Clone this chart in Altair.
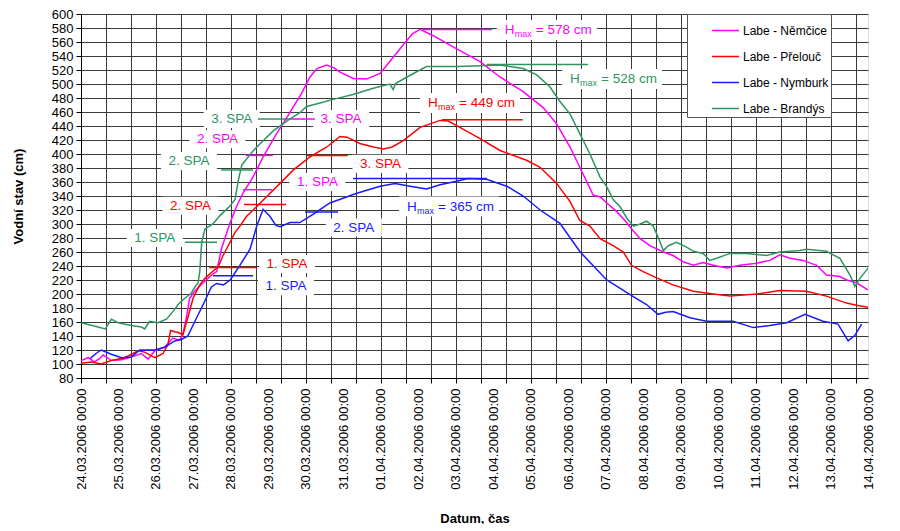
import json
import altair as alt
import pandas as pd

# ---------------- data ----------------
STATIONS = ["Labe - Němčice", "Labe - Přelouč", "Labe - Nymburk", "Labe - Brandýs"]
COLORS = ["#ff00ff", "#ff0000", "#1a1aff", "#2e9560"]

DATE_LABELS = [
    "24.03.2006 00:00", "25.03.2006 00:00", "26.03.2006 00:00", "27.03.2006 00:00",
    "28.03.2006 00:00", "29.03.2006 00:00", "30.03.2006 00:00", "31.03.2006 00:00",
    "01.04.2006 00:00", "02.04.2006 00:00", "03.04.2006 00:00", "04.04.2006 00:00",
    "05.04.2006 00:00", "06.04.2006 00:00", "07.04.2006 00:00", "08.04.2006 00:00",
    "09.04.2006 00:00", "10.04.2006 00:00", "11.04.2006 00:00", "12.04.2006 00:00",
    "13.04.2006 00:00", "14.04.2006 00:00",
]
Y_TICKS = list(range(80, 601, 20))

# days since 24.03.2006 00:00, water level in cm
nem_day = [0, 0.19, 0.36, 0.5, 0.59, 0.81, 1.08, 1.34, 1.61, 1.79, 1.97, 2.23, 2.45, 2.63, 2.72,
           2.81, 2.9, 3.03, 3.26, 3.48, 3.62, 3.75, 3.98, 4.15, 4.33, 4.6, 4.86, 5.22, 5.49, 5.89,
           6.11, 6.3, 6.55, 6.75, 6.91, 7.27, 7.62, 7.98, 8.24, 8.6, 8.85, 9.05, 9.4, 9.93, 10.65,
           11.18, 11.8, 12.34, 12.69, 13.05, 13.31, 13.67, 13.85, 14.03, 14.29, 14.56, 14.74, 14.92,
           15.18, 15.54, 15.8, 16.07, 16.34, 16.6, 16.87, 17.23, 17.58, 18.03, 18.38, 18.65, 18.92,
           19.27, 19.63, 19.89, 20.25, 20.43, 20.69, 21.0]
nem_cm = [105, 109, 103, 108, 113, 105, 106, 110, 115, 107, 119, 124, 137, 134, 143,
          166, 194, 204, 216, 227, 232, 265, 302, 325, 345, 368, 396, 429, 452, 487,
          510, 522, 527, 523, 517, 508, 507, 515, 532, 556, 572, 578, 569, 553, 532,
          510, 489, 466, 443, 410, 381, 341, 339, 330, 318, 302, 290, 279,
          269, 260, 255, 246, 241, 245, 241, 237, 241, 244, 248, 256, 251,
          248, 241, 227, 225, 220, 216, 206]

pre_day = [0, 0.28, 0.54, 0.81, 1.16, 1.39, 1.52, 1.7, 1.97, 2.19, 2.32, 2.39, 2.5, 2.59, 2.72,
           2.85, 2.99, 3.17, 3.3, 3.44, 3.66, 3.79, 3.89, 4.11, 4.24, 4.42, 4.69, 4.95, 5.31, 5.66,
           6.11, 6.56, 6.91, 7.1, 7.44, 7.8, 8.07, 8.3, 8.6, 9.05, 9.58, 9.8, 10.11, 10.65, 11.18,
           11.89, 12.25, 12.69, 13.05, 13.31, 13.58, 13.85, 14.2, 14.47, 14.69, 15.0, 15.36, 15.8,
           16.34, 16.87, 17.32, 18.03, 18.65, 19.36, 19.89, 20.43, 20.69, 21.0]
pre_cm = [101, 103, 100, 105, 109, 115, 119, 117, 109, 115, 128, 148, 146, 145, 142,
          166, 194, 213, 222, 229, 239, 255, 265, 288, 297, 311, 325, 339, 358, 377,
          396, 410, 425, 424, 415, 410, 407, 410, 419, 438, 448, 447, 438, 422, 405,
          391, 381, 358, 332, 305, 297, 279, 269, 260, 241, 232, 223, 213,
          204, 200, 197, 200, 205, 204, 197, 187, 184, 181]

nym_day = [0.25, 0.4, 0.54, 0.81, 1.08, 1.34, 1.57, 1.97, 2.23, 2.5, 2.68, 2.85, 3.03, 3.26, 3.48,
           3.62, 3.8, 3.98, 4.24, 4.51, 4.69, 4.86, 5.04, 5.2, 5.31, 5.58, 5.84, 6.2, 6.64, 7.36,
           7.98, 8.38, 8.78, 9.22, 9.58, 10.02, 10.33, 10.82, 11.36, 11.8, 12.25, 12.78, 13.32,
           14.03, 14.65, 15.09, 15.4, 15.6, 15.8, 16.25, 16.69, 17.4, 17.94, 18.38, 18.83, 19.32,
           19.8, 20.2, 20.47, 20.65, 20.83]
nym_cm = [108, 115, 120, 114, 109, 110, 120, 120, 124, 133, 135, 140, 160, 185, 210,
          215, 213, 220, 241, 264, 297, 321, 311, 298, 296, 302, 302, 314, 330, 344,
          354, 358, 354, 350, 356, 361, 365, 364, 354, 340, 320, 301, 260,
          220, 199, 185, 171, 174, 175, 166, 161, 161, 152, 155, 159, 171,
          161, 157, 133, 141, 157]

bra_day = [0, 0.3, 0.65, 0.81, 0.99, 1.34, 1.61, 1.7, 1.83, 2.05, 2.28, 2.5, 2.59, 2.77, 2.94,
           3.05, 3.12, 3.17, 3.22, 3.31, 3.52, 3.71, 3.98, 4.11, 4.2, 4.29, 4.42, 4.6, 4.86, 5.13,
           5.49, 5.84, 6.02, 6.38, 6.73, 7.26, 7.8, 8.24, 8.33, 8.4, 8.87, 9.22, 10.02, 10.65, 11.18,
           11.8, 12.16, 12.51, 12.78, 13.05, 13.31, 13.58, 13.85, 14.03, 14.2, 14.38, 14.56, 14.74,
           14.92, 15.09, 15.27, 15.4, 15.54, 15.67, 15.89, 16.16, 16.34, 16.6, 16.78, 16.96, 17.32,
           17.76, 18.29, 18.65, 19.18, 19.36, 19.89, 20.25, 20.52, 20.65, 20.78, 21.0]
bra_cm = [159, 155, 150, 164, 159, 155, 153, 150, 161, 159, 164, 178, 185, 194, 201,
          211, 215, 232, 274, 293, 300, 312, 326, 335, 363, 384, 393, 405, 419, 433,
          447, 459, 468, 473, 478, 485, 494, 500, 492, 501, 515, 525, 525, 526, 527,
          522, 513, 496, 475, 457, 429, 400, 367, 353, 335, 325, 309, 297,
          300, 304, 297, 281, 262, 269, 274, 267, 261, 258, 248, 251, 258,
          258, 255, 260, 262, 264, 261, 251, 227, 211, 222, 237]

# flood-alert (SPA) annotations
spa_station = [STATIONS[0]] * 3 + [STATIONS[1]] * 3 + [STATIONS[2]] * 2 + [STATIONS[3]] * 3
spa_text = ["1. SPA", "2. SPA", "3. SPA", "1. SPA", "2. SPA", "3. SPA",
            "1. SPA", "2. SPA", "1. SPA", "2. SPA", "3. SPA"]
spa_level = [349, 398, 450, 238, 328, 398, 226, 317, 274, 377, 450]
spa_line_from = [4.32, 4.40, 5.58, 3.42, 4.35, 6.03, 3.52, 5.98, 2.77, 3.74, 4.72]
spa_line_to = [5.10, 5.12, 6.24, 4.67, 5.47, 7.12, 4.59, 6.86, 3.63, 4.59, 5.58]
spa_label_day = [6.31, 3.64, 6.94, 5.50, 2.92, 7.99, 5.47, 7.28, 1.97, 2.88, 4.02]
spa_label_cm = [360, 421, 450, 243, 326, 386, 211, 295, 280, 390, 450]

# maximum water level annotations
hmax_station = STATIONS
hmax_value = [578, 449, 365, 528]
hmax_line_from = [9.12, 9.63, 7.26, 10.83]
hmax_line_to = [10.97, 11.79, 10.83, 13.53]
hmax_label_day = [11.31, 9.26, 8.70, 13.05]
hmax_label_cm = [577, 473, 325, 507]

# ---------------- layout ----------------
W, H = 787, 364
PAD_TOP = 6
X_DOM = [0, 21]
Y_DOM = [80, 600]
PX_DAY = W / (X_DOM[1] - X_DOM[0])
PX_CM = H / (Y_DOM[1] - Y_DOM[0])
FONT = "Liberation Sans"

series = []
for st, d, v in zip(STATIONS, [nem_day, pre_day, nym_day, bra_day], [nem_cm, pre_cm, nym_cm, bra_cm]):
    series.append(pd.DataFrame({"station": st, "day": d, "cm": v}))
df = pd.concat(series, ignore_index=True)

spa_df = pd.DataFrame({"station": spa_station, "text": spa_text, "level": spa_level,
                       "x1": spa_line_from, "x2": spa_line_to,
                       "day": spa_label_day, "cm": spa_label_cm})
hmax_df = pd.DataFrame({"station": hmax_station, "value": hmax_value,
                        "x1": hmax_line_from, "x2": hmax_line_to,
                        "day": hmax_label_day, "cm": hmax_label_cm})
hmax_df["level"] = hmax_df["value"]
hmax_df["eq"] = "= " + hmax_df["value"].astype(str) + " cm"

box_rows = []
for _, r in spa_df.iterrows():
    cx, cy, w, h = r["day"], r["cm"], 56, 18
    box_rows.append((cx - w / 2 / PX_DAY, cx + w / 2 / PX_DAY, cy - h / 2 / PX_CM, cy + h / 2 / PX_CM))
for _, r in hmax_df.iterrows():
    cx, cy, w, h = r["day"] + 42 / PX_DAY, r["cm"], 100, 20
    box_rows.append((cx - w / 2 / PX_DAY, cx + w / 2 / PX_DAY, cy - h / 2 / PX_CM, cy + h / 2 / PX_CM))
box_df = pd.DataFrame(box_rows, columns=["bx1", "bx2", "by1", "by2"])

rule_df = pd.concat([spa_df[["station", "level", "x1", "x2"]],
                     hmax_df[["station", "level", "x1", "x2"]]], ignore_index=True)

x_scale = alt.Scale(domain=X_DOM, nice=False, zero=False)
y_scale = alt.Scale(domain=Y_DOM, nice=False, zero=False)
color_scale = alt.Scale(domain=STATIONS, range=COLORS)

tick_vals = sorted(set([round(k * 2 / 3, 6) for k in range(32)] + [float(d) for d in range(22)]))
not_tick = "abs(datum.value*1.5 - round(datum.value*1.5)) > 0.01"
label_expr = ("abs(datum.value - round(datum.value)) < 0.01 ? "
              + json.dumps(DATE_LABELS) + "[round(datum.value)] : ''")

GRID = "#3a3a3a"
x_axis = alt.Axis(
    values=tick_vals, labelExpr=label_expr, labelAngle=270, labelFontSize=13, labelFont=FONT,
    labelColor="black", labelPadding=5, labelOverlap=False, labelBound=False, labelFlush=False,
    tickSize=5, tickColor="black",
    tickOpacity={"condition": {"test": not_tick, "value": 0}, "value": 1},
    grid=True, gridColor=GRID, gridWidth=1,
    gridOpacity={"condition": {"test": not_tick, "value": 0}, "value": 1},
    domainColor="black", title="Datum, čas", titleFont=FONT, titleFontSize=13,
    titleFontWeight="bold", titleColor="black", titleY=140, titleBaseline="middle",
)
y_axis = alt.Axis(
    values=Y_TICKS, labelFontSize=13, labelFont=FONT, labelColor="black", labelPadding=3,
    labelOverlap=False, labelBound=False, labelFlush=False,
    tickSize=5, tickColor="black", grid=True, gridColor=GRID, gridWidth=1, domainColor="black",
    title="Vodní stav (cm)", titleFont=FONT, titleFontSize=13, titleFontWeight="bold",
    titleColor="black", titleX=-63, titleY=H / 2, titleAngle=270, titleAlign="center",
    titleBaseline="middle",
)

legend = alt.Legend(
    title=None, orient="none", legendX=606, legendY=0, fillColor="white",
    strokeColor="#555555", padding=2, rowPadding=5, symbolType="stroke", symbolSize=729,
    symbolStrokeWidth=1.5, symbolOffset=22, labelFontSize=12, labelFont=FONT, labelColor="black",
    labelOffset=3, labelExpr="datum.label + '" + "\u00a0" * 11 + "'",
)


def X(field):
    return alt.X(field, scale=x_scale, axis=x_axis)


def Y(field):
    return alt.Y(field, scale=y_scale, axis=y_axis)


color_enc = alt.Color("station:N", scale=color_scale, legend=legend, sort=STATIONS)

lines = alt.Chart(df).mark_line(strokeWidth=1.5, clip=True).encode(
    x=X("day:Q"), y=Y("cm:Q"), color=color_enc,
)

boxes = alt.Chart(box_df).mark_rect(fill="white").encode(
    x=X("bx1:Q"), x2="bx2:Q", y=Y("by1:Q"), y2="by2:Q",
)

rules = alt.Chart(rule_df).mark_rule(strokeWidth=1.5).encode(
    x=X("x1:Q"), x2="x2:Q", y=Y("level:Q"), color=color_enc,
)

spa_text_layer = alt.Chart(spa_df).mark_text(
    font=FONT, fontSize=13.5, align="center", baseline="middle").encode(
    x=X("day:Q"), y=Y("cm:Q"), text="text:N", color=color_enc,
)

hmax_base = alt.Chart(hmax_df).encode(x=X("day:Q"), y=Y("cm:Q"), color=color_enc)
h_txt = hmax_base.mark_text(font=FONT, fontSize=13.5, align="left", baseline="middle").encode(
    text=alt.value("H"))
max_txt = hmax_base.mark_text(font=FONT, fontSize=9, align="left", baseline="middle",
                              dx=10, dy=4).encode(text=alt.value("max"))
eq_txt = hmax_base.mark_text(font=FONT, fontSize=13.5, align="left", baseline="middle",
                             dx=31).encode(text="eq:N")

chart = alt.layer(boxes, rules, lines, spa_text_layer, h_txt, max_txt, eq_txt).properties(
    width=W, height=H,
    autosize=alt.AutoSizeParams(type="none"),
    padding={"left": 73, "top": PAD_TOP, "right": 20, "bottom": 146},
    background="white",
).configure_view(stroke="black", strokeWidth=1).configure(font=FONT)

chart.save("out.html", embed_options={"renderer": "svg", "actions": False})
